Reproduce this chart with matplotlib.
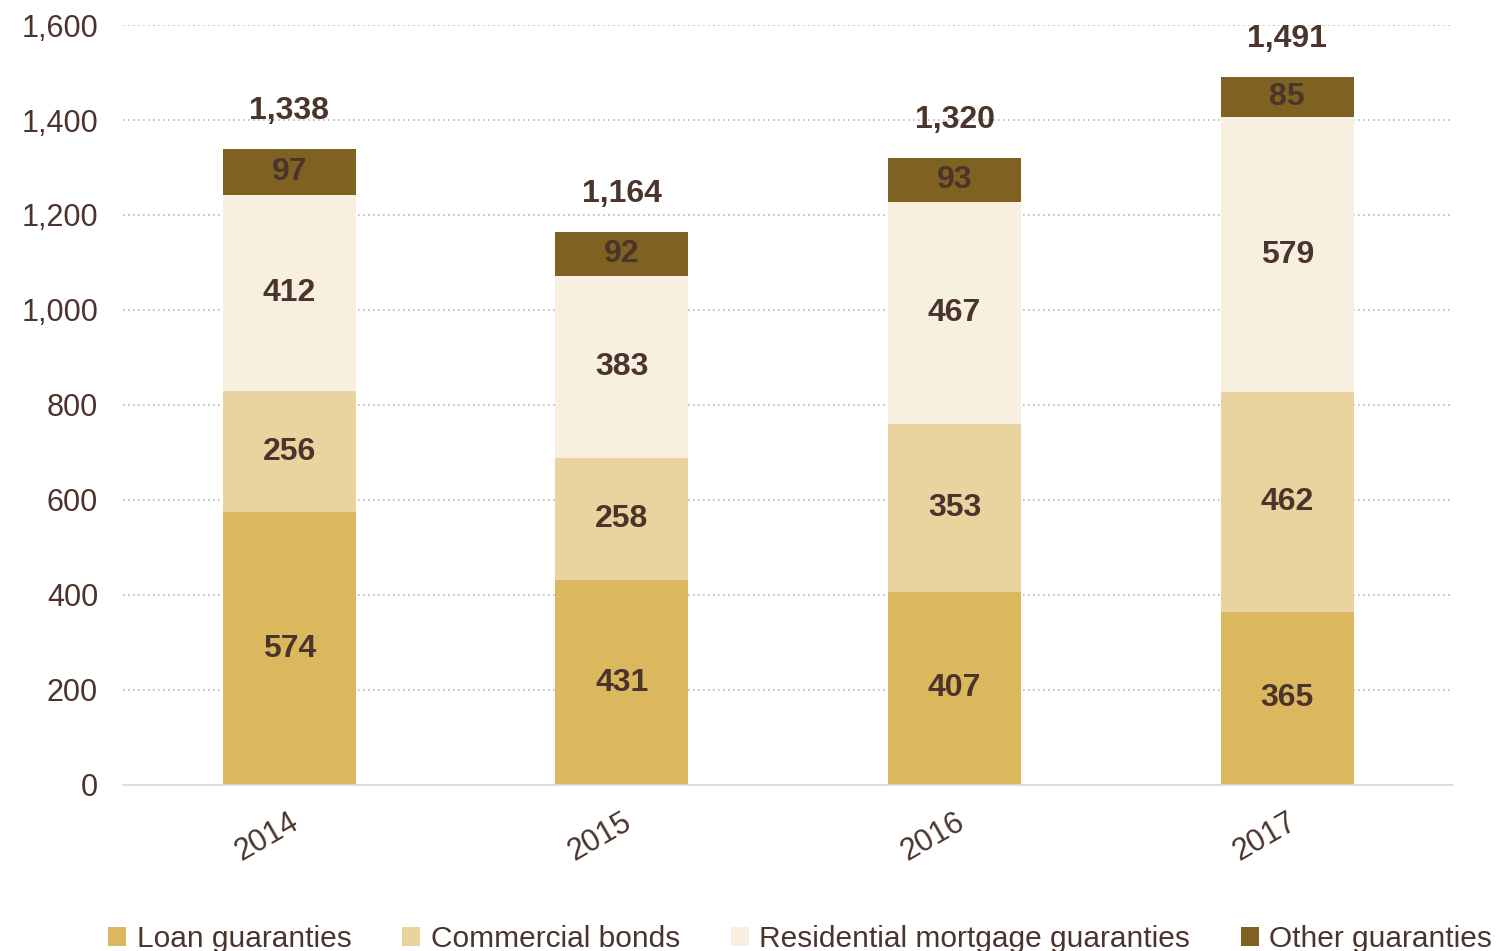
import numpy as np
import matplotlib.pyplot as plt
from matplotlib.patches import Patch

years = ["2014", "2015", "2016", "2017"]
loan = [574, 431, 407, 365]
commercial = [256, 258, 353, 462]
residential = [412, 383, 467, 579]
other = [97, 92, 93, 85]
totals = [1338, 1164, 1320, 1491]

series = [
    ("Loan guaranties", loan, "#dbb75e"),
    ("Commercial bonds", commercial, "#e9d39f"),
    ("Residential mortgage guaranties", residential, "#f7efdf"),
    ("Other guaranties", other, "#7f6121"),
]
text_color = "#4a342b"

plt.rcParams["font.family"] = ["Liberation Sans", "DejaVu Sans"]

fig = plt.figure(figsize=(15.04, 9.51), dpi=100)
ax = fig.add_axes([0.0818, 0.1746, 0.8846, 0.7991])

x = np.arange(len(years))
bottom = np.zeros(len(years))
for name, vals, color in series:
    vals = np.array(vals, dtype=float)
    ax.bar(x, vals, width=0.4, bottom=bottom, color=color, label=name, zorder=2)
    for xi, b, v in zip(x, bottom, vals):
        ax.text(xi, b + v / 2, f"{int(v)}", ha="center", va="center",
                fontsize=23, fontweight="bold", color=text_color, zorder=3)
    bottom += vals

for xi, top, t in zip(x, bottom, totals):
    ax.text(xi, top + 80, f"{t:,}", ha="center", va="center",
            fontsize=23, fontweight="bold", color=text_color, zorder=3)

ax.set_xlim(-0.5, 3.5)
ax.set_ylim(0, 1600)
ax.set_yticks(np.arange(0, 1601, 200))
ax.set_yticklabels([f"{v:,}" for v in range(0, 1601, 200)])
ax.yaxis.grid(True, linestyle=(0, (1, 2)), color="#b8b8b8", linewidth=1.2, zorder=0)
ax.set_axisbelow(True)

ax.set_xticks(x)
ax.set_xticklabels(years, rotation=30, ha="right", rotation_mode="anchor")

for side in ["top", "right", "left"]:
    ax.spines[side].set_visible(False)
ax.spines["bottom"].set_color("#d9d9d9")
ax.spines["bottom"].set_linewidth(1.2)
ax.tick_params(axis="both", length=0, labelsize=22, colors=text_color)
ax.tick_params(axis="y", pad=18)
ax.tick_params(axis="x", pad=16)

handles = [Patch(facecolor=c, label=n) for n, _, c in series]
fig.legend(handles=handles, loc="lower center", bbox_to_anchor=(0.532, -0.03),
           ncol=4, frameon=False, fontsize=21.5, handlelength=0.6, handleheight=0.6,
           handletextpad=0.35, columnspacing=1.7, labelcolor=text_color)

fig.savefig("out.png", dpi=100)
